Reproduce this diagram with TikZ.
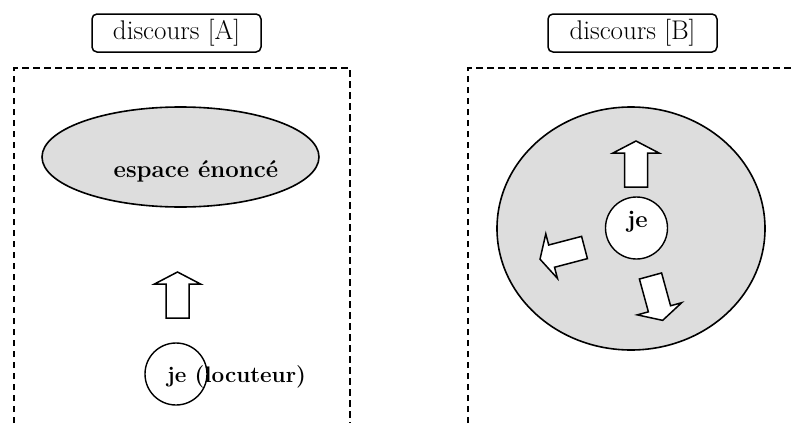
\documentclass[tikz,border=0pt]{standalone}
\usetikzlibrary{shapes.geometric}
\definecolor{spacegray}{RGB}{221,221,221}
\begin{document}
\begin{tikzpicture}[x=1pt,y=-1pt,
  titlebox/.style={draw, line width=1.5pt, rounded corners=5pt, minimum width=169pt, minimum height=38pt, inner sep=0pt, font=\fontsize{27}{29}\selectfont},
  frame/.style={line width=1.7pt, dash pattern=on 6.5pt off 4.5pt},
  space/.style={ellipse, draw, line width=1.6pt, fill=spacegray, inner sep=0pt},
  jecircle/.style={circle, draw, line width=1.4pt, fill=white, minimum size=62pt, inner sep=0pt},
  label/.style={font=\fontsize{24}{26}\selectfont\bfseries, inner sep=0pt, anchor=base},
  bigarrow/.pic={\draw[line width=1.5pt, fill=white, line join=miter]
     (-11.5,0) -- (-11.5,-34) -- (-23,-34) -- (0,-46) -- (23,-34) -- (11.5,-34) -- (11.5,0) -- cycle;}
]
\useasboundingbox (0,0) rectangle (795,423);
% --- discours [A]
\node[titlebox] (tA) at (176.5,33) {discours [A]};
\coordinate (fA1) at (14,423);
\coordinate (fA2) at (14,68);
\coordinate (fA3) at (350,68);
\coordinate (fA4) at (350,423);
\draw[frame] (fA1) -- (fA2) -- (fA3) -- (fA4);
\node[space, minimum width=277pt, minimum height=100pt] (eA) at (180.5,157) {};
\node[label] (tEsp) at (196,177) {espace énoncé};
\pic (arA) at (177.5,318) {bigarrow};
\node[jecircle] (cA) at (176,374) {};
\node[label, font=\fontsize{22.5}{24}\selectfont\bfseries] (tLoc) at (236.5,382) {je (locuteur)};
% --- discours [B]
\node[titlebox] (tB) at (632.5,33) {discours [B]};
\coordinate (fB1) at (468,423);
\coordinate (fB2) at (468,68);
\coordinate (fB3) at (795,68);
\draw[frame] (fB1) -- (fB2) -- (fB3);
\node[space, minimum width=268pt, minimum height=243pt] (eB) at (631,228.5) {};
\pic (arB1) at (636,187) {bigarrow};
\pic[rotate=104.7] (arB2) at (584.5,247.5) {bigarrow};
\pic[rotate=195.3] (arB3) at (650.5,276) {bigarrow};
\node[jecircle] (cB) at (636.5,228) {};
\node[label] (tJe) at (637.5,227) {je};
\end{tikzpicture}
\end{document}
